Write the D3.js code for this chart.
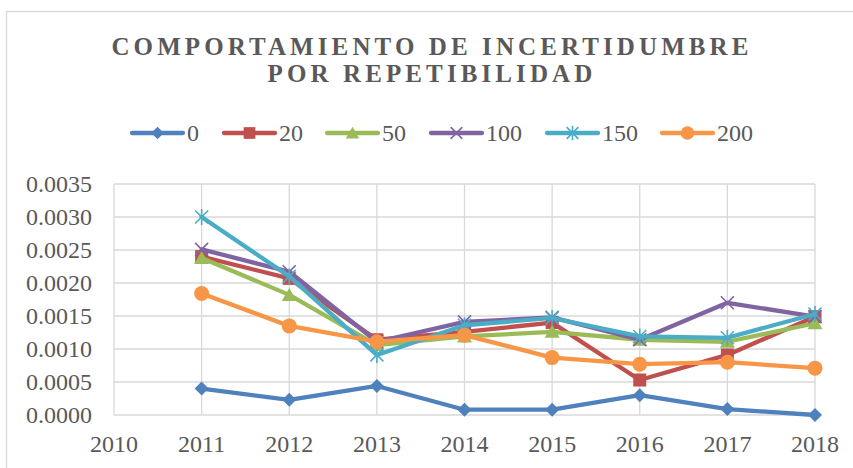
<!DOCTYPE html>
<html lang="es">
<head>
    <meta charset="UTF-8">
    <title>Comportamiento de incertidumbre por repetibilidad</title>
    <script src="https://d3js.org/d3.v7.min.js"></script>
    <style>
        body { margin: 0; background: #fff; }
        svg { display: block; }
        .grid line { stroke: #d9d9d9; stroke-width: 1.3px; }
    </style>
</head>
<body>
    <svg id="chart" width="853" height="468"></svg>

    <script>
        // Data
        const years = [2011, 2012, 2013, 2014, 2015, 2016, 2017, 2018];
        const seriesNames = ["0", "20", "50", "100", "150", "200"];
        const s0   = [0.00040, 0.00023, 0.00044, 0.00008, 0.00008, 0.00030, 0.00009, 0.00000];
        const s20  = [0.00240, 0.00207, 0.00114, 0.00126, 0.00140, 0.00053, 0.00091, 0.00149];
        const s50  = [0.00238, 0.00182, 0.00106, 0.00119, 0.00126, 0.00114, 0.00111, 0.00139];
        const s100 = [0.00251, 0.00217, 0.00111, 0.00141, 0.00148, 0.00114, 0.00170, 0.00149];
        const s150 = [0.00300, 0.00210, 0.00091, 0.00136, 0.00147, 0.00119, 0.00117, 0.00153];
        const s200 = [0.00184, 0.00135, 0.00111, 0.00121, 0.00087, 0.00077, 0.00080, 0.00071];
        const yTicks = [0, 0.0005, 0.001, 0.0015, 0.002, 0.0025, 0.003, 0.0035];
        const xTicks = [2010, 2011, 2012, 2013, 2014, 2015, 2016, 2017, 2018];

        const colors = ["#4f81bd", "#c0504d", "#9bbb59", "#8064a2", "#4bacc6", "#f79646"];
        const markers = ["diamond", "square", "triangle", "x", "star", "circle"];
        const allValues = [s0, s20, s50, s100, s150, s200];

        const FONT = '"Liberation Serif", "Times New Roman", Tinos, serif';
        const svg = d3.select("#chart");

        // outer chart border (Excel style)
        svg.append("rect")
            .attr("x", 6.5).attr("y", 11.5)
            .attr("width", 860).attr("height", 470)
            .attr("fill", "none")
            .attr("stroke", "#d9d9d9")
            .attr("stroke-width", 1.3);

        // title, two lines
        const titleLines = ["COMPORTAMIENTO DE INCERTIDUMBRE", "POR REPETIBILIDAD"];
        svg.append("g").selectAll("text").data(titleLines).enter().append("text")
            .attr("text-anchor", "middle")
            .style("font-family", FONT)
            .style("font-size", "25px")
            .style("font-weight", "bold")
            .style("letter-spacing", "4.1px")
            .attr("fill", "#595959")
            .attr("x", 432)
            .attr("y", (d, i) => 54.5 + i * 27.5)
            .text(d => d);

        // scales
        const plot = { left: 114, right: 815, top: 184, bottom: 415 };
        const x = d3.scaleLinear().domain([2010, 2018]).range([plot.left, plot.right]);
        const y = d3.scaleLinear().domain([0, 0.0035]).range([plot.bottom, plot.top]);

        // gridlines
        const grid = svg.append("g").attr("class", "grid");
        grid.selectAll(".h").data(yTicks).enter().append("line")
            .attr("x1", plot.left).attr("x2", plot.right)
            .attr("y1", d => y(d)).attr("y2", d => y(d));
        grid.selectAll(".v").data(xTicks).enter().append("line")
            .attr("y1", plot.top).attr("y2", plot.bottom)
            .attr("x1", d => x(d)).attr("x2", d => x(d));

        // axis labels
        svg.append("g").selectAll("text").data(yTicks).enter().append("text")
            .style("font-family", FONT).style("font-size", "24px")
            .attr("fill", "#595959")
            .attr("x", 92)
            .attr("y", d => y(d))
            .attr("dy", "0.33em")
            .attr("text-anchor", "end")
            .text(d => d3.format(".4f")(d));

        svg.append("g").selectAll("text").data(xTicks).enter().append("text")
            .style("font-family", FONT).style("font-size", "24px")
            .attr("fill", "#595959")
            .attr("x", d => x(d))
            .attr("y", 452)
            .attr("text-anchor", "middle")
            .text(d => d);

        // marker drawing helper
        function drawMarker(g, type, cx, cy, color, s) {
            s = s || 1;
            if (type === "diamond") {
                const r = 7 * s;
                g.append("path").attr("d", `M${cx},${cy - r}L${cx + r},${cy}L${cx},${cy + r}L${cx - r},${cy}Z`).attr("fill", color);
            } else if (type === "square") {
                const r = 6.5 * s;
                g.append("rect").attr("x", cx - r).attr("y", cy - r).attr("width", 2 * r).attr("height", 2 * r).attr("fill", color);
            } else if (type === "triangle") {
                g.append("path").attr("d", `M${cx},${cy - 7 * s}L${cx + 7.5 * s},${cy + 6 * s}L${cx - 7.5 * s},${cy + 6 * s}Z`).attr("fill", color);
            } else if (type === "x") {
                const r = 6.5 * s;
                g.append("path").attr("d", `M${cx - r},${cy - r}L${cx + r},${cy + r}M${cx + r},${cy - r}L${cx - r},${cy + r}`)
                    .attr("stroke", color).attr("stroke-width", 1.6);
            } else if (type === "star") {
                const r = 6.5 * s;
                g.append("path").attr("d", `M${cx - r},${cy - r}L${cx + r},${cy + r}M${cx + r},${cy - r}L${cx - r},${cy + r}M${cx},${cy - 8 * s}L${cx},${cy + 8 * s}`)
                    .attr("stroke", color).attr("stroke-width", 1.6);
            } else {
                g.append("circle").attr("cx", cx).attr("cy", cy).attr("r", 7.5 * s).attr("fill", color);
            }
        }

        // series lines + markers
        const line = d3.line().x((d, i) => x(years[i])).y(d => y(d));
        allValues.forEach((vals, k) => {
            const g = svg.append("g");
            g.append("path")
                .attr("d", line(vals))
                .attr("fill", "none")
                .attr("stroke", colors[k])
                .attr("stroke-width", 4.3)
                .attr("stroke-linejoin", "round")
                .attr("stroke-linecap", "round");
            vals.forEach((v, i) => drawMarker(g, markers[k], x(years[i]), y(v), colors[k]));
        });

        // legend
        const legendX = [130, 222, 325, 429, 545, 660];
        const legend = svg.append("g");
        seriesNames.forEach((name, k) => {
            const g = legend.append("g");
            g.append("line")
                .attr("x1", legendX[k] + 2).attr("x2", legendX[k] + 53)
                .attr("y1", 133).attr("y2", 133)
                .attr("stroke", colors[k]).attr("stroke-width", 4.3)
                .attr("stroke-linecap", "round");
            drawMarker(g, markers[k], legendX[k] + 27.5, 133, colors[k], 0.9);
            g.append("text")
                .style("font-family", FONT).style("font-size", "24px")
                .attr("fill", "#595959")
                .attr("x", legendX[k] + 57)
                .attr("y", 141)
                .text(name);
        });
    </script>
</body>
</html>
